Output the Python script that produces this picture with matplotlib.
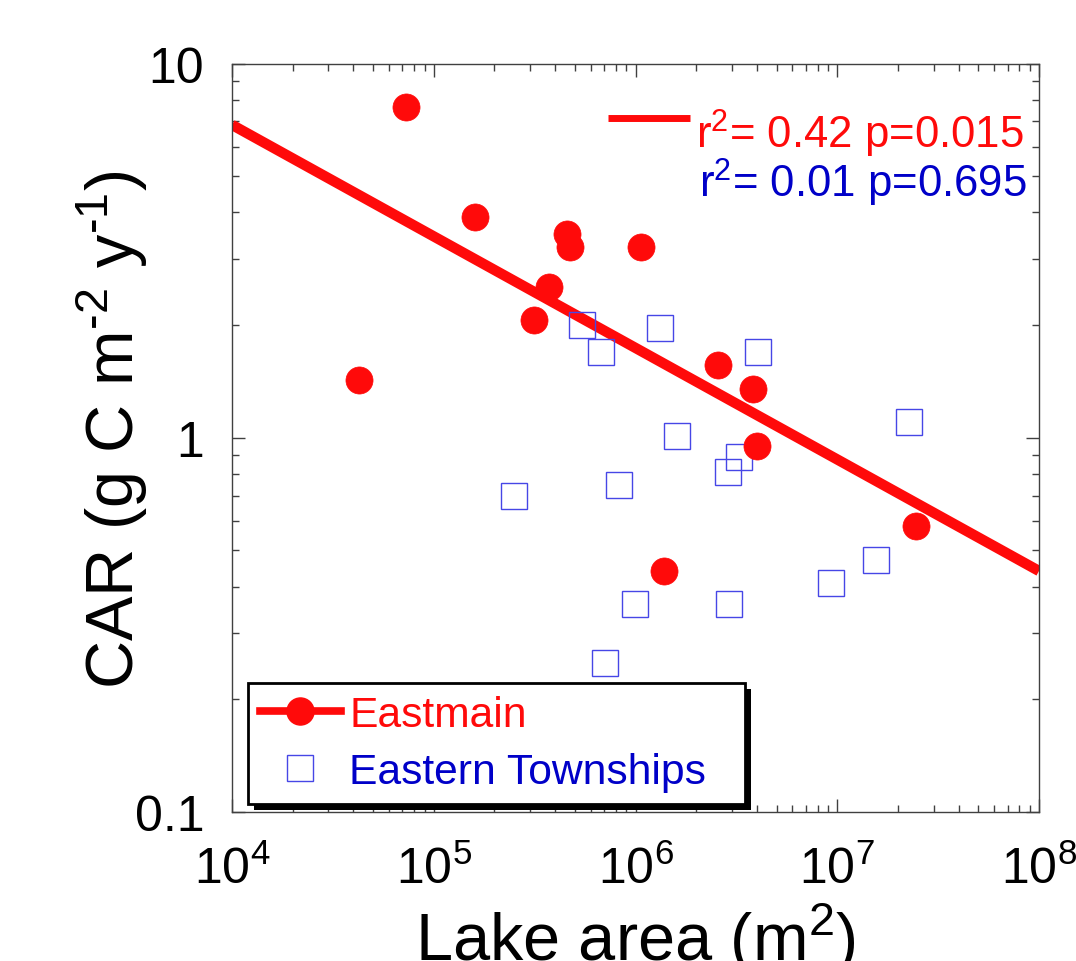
import numpy as np
import matplotlib
matplotlib.use('Agg')
import matplotlib.pyplot as plt
from matplotlib.lines import Line2D
from matplotlib import patheffects
from matplotlib.ticker import FixedLocator, FixedFormatter, NullFormatter, LogLocator

plt.rcParams['font.family'] = 'Liberation Sans'
plt.rcParams['mathtext.fontset'] = 'custom'
plt.rcParams['mathtext.rm'] = 'Liberation Sans'
plt.rcParams['mathtext.it'] = 'Liberation Sans:italic'
plt.rcParams['mathtext.default'] = 'regular'

# Eastmain lakes: area (m2) and carbon accumulation rate
eastmain_area = [7.26e4, 1.61e5, 4.56e5, 4.73e5, 1.06e6, 3.74e5, 3.15e5,
                 4.28e4, 2.55e6, 3.84e6, 3.99e6, 1.38e6, 2.46e7]
eastmain_car = [7.67, 3.90, 3.50, 3.23, 3.23, 2.53, 2.06,
                1.43, 1.56, 1.35, 0.95, 0.44, 0.58]

# Eastern Townships lakes
townships_area = [5.45e5, 6.77e5, 1.32e6, 4.07e6, 1.61e6, 3.26e6, 2.87e6, 8.26e5,
                  2.49e5, 9.98e5, 2.91e6, 7.03e5, 2.26e7, 1.56e7, 9.28e6]
townships_car = [2.00, 1.70, 1.96, 1.70, 1.01, 0.89, 0.81, 0.75,
                 0.70, 0.36, 0.36, 0.25, 1.10, 0.47, 0.41]

# log10(CAR) = a + b*log10(area), Eastmain regression
fit_coef = [2.028, -0.298]
fit_range = [1e4, 1e8]

stats_text = ['r$^2$= 0.42 p=0.015', 'r$^2$= 0.01 p=0.695']
ytick_vals = [0.1, 1, 10]
ytick_labels = ['0.1', '1', '10']

red = '#ff0a0a'
blue_txt = '#0000c8'
blue_mk = '#4646e6'

fig = plt.figure(figsize=(10.76, 9.62), dpi=100)
ax = fig.add_axes([232 / 1076, 1 - 813 / 962, 807 / 1076, 748.5 / 962])

# regression line
fx = np.array(fit_range)
fy = 10 ** (fit_coef[0] + fit_coef[1] * np.log10(fx))
ax.plot(fx, fy, color=red, lw=7.5, solid_capstyle='butt', zorder=2)

ax.plot(townships_area, townships_car, ls='none', marker='s', ms=19,
        mfc='none', mec=blue_mk, mew=1.0, zorder=3)
ax.plot(eastmain_area, eastmain_car, ls='none', marker='o', ms=19.5,
        mfc=red, mec=red, mew=0.5, zorder=4)

ax.set_xscale('log')
ax.set_yscale('log')
ax.set_xlim(1e4, 1e8)
ax.set_ylim(0.1, 10)

ax.yaxis.set_major_locator(FixedLocator(ytick_vals))
ax.yaxis.set_major_formatter(FixedFormatter(ytick_labels))
ax.yaxis.set_minor_locator(LogLocator(base=10, subs=np.arange(2, 10)))
ax.yaxis.set_minor_formatter(NullFormatter())
ax.xaxis.set_minor_formatter(NullFormatter())

for sp in ax.spines.values():
    sp.set_color('#404040')
    sp.set_linewidth(1.0)
ax.tick_params(which='both', direction='in', top=True, right=True, color='#404040')
ax.tick_params(which='major', length=9.5, width=1.0)
ax.tick_params(which='minor', length=5, width=1.0)
ax.tick_params(axis='x', which='major', labelsize=36, pad=24)
ax.tick_params(axis='y', which='major', labelsize=36, pad=20)

ax.set_xlabel('Lake area (m$^2$)', fontsize=48)
ax.xaxis.set_label_coords(0.5, -0.118)
ax.set_ylabel(r'CAR (g C m$^{\text{-}2}$ y$^{\text{-}1}$)', fontsize=48)
ax.yaxis.set_label_coords(-0.102, 0.512)

# statistics in the upper right
ax.plot([0.466, 0.5675], [0.927, 0.927], transform=ax.transAxes,
        color=red, lw=5, solid_capstyle='butt', clip_on=False)
ax.text(0.575, 0.887, stats_text[0], transform=ax.transAxes, color=red,
        fontsize=31.5, ha='left', va='baseline')
ax.text(0.579, 0.822, stats_text[1], transform=ax.transAxes, color=blue_txt,
        fontsize=31.5, ha='left', va='baseline')

handles = [
    Line2D([], [], color=red, lw=5.5, marker='o', ms=19.5, mfc=red, mec=red),
    Line2D([], [], ls='none', marker='s', ms=19, mfc='none', mec=blue_mk, mew=1.0),
]
leg = ax.legend(handles, ['Eastmain', 'Eastern Townships'], loc='lower left',
                bbox_to_anchor=(0.0198, 0.0107, 0.616, 0.1), mode='expand',
                borderaxespad=0, fontsize=30.7,
                frameon=True, fancybox=False, handlelength=1.9, handletextpad=0.2,
                borderpad=0.28, labelspacing=0.4)
frame = leg.get_frame()
frame.set_edgecolor('black')
frame.set_linewidth(2.0)
frame.set_alpha(1)
frame.set_path_effects([patheffects.SimplePatchShadow(offset=(4.5, -4.5), shadow_rgbFace='black', alpha=1),
                        patheffects.Normal()])
leg.get_texts()[0].set_color(red)
leg.get_texts()[1].set_color(blue_txt)

fig.savefig('out.png', dpi=100)
